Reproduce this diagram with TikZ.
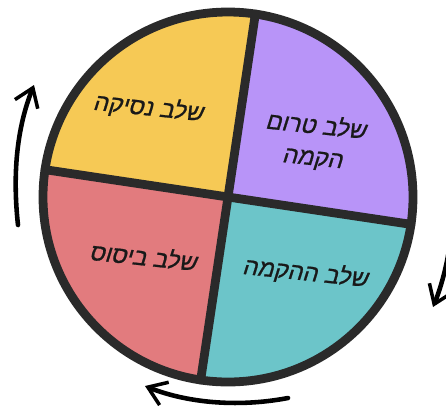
\documentclass[tikz,border=0pt]{standalone}
\usepackage{fontspec}
\newfontfamily\hebfont[Script=Hebrew,FakeSlant=0.2,FakeBold=0.8]{Liberation Sans}
\TeXXeTstate=1
\usetikzlibrary{arrows.meta,calc}
\definecolor{cPurple}{HTML}{B894F8}
\definecolor{cTeal}{HTML}{6CC5C9}
\definecolor{cRose}{HTML}{E27B7E}
\definecolor{cSun}{HTML}{F6C955}
\definecolor{cInk}{HTML}{2A2A2A}
\tikzset{
  wedge/.style={draw=cInk,line width=5pt,line join=round},
  divline/.style={draw=cInk,line width=5pt,line cap=round},
  stagelbl/.style={font=\hebfont\fontsize{13.5}{18}\selectfont,
                   align=center,text=black!90,rotate=-6},
  cyclearr/.style={-{Straight Barb[length=10pt,width=14pt,line width=2pt]},
                   line width=2.6pt,black,line cap=round}
}
\begin{document}
\begin{tikzpicture}[x=0.02cm,y=0.02cm]
  \useasboundingbox (0,0) rectangle (446,-407);
  \coordinate (c) at (228,-197);

  % the four stages
  \fill[cPurple] (c) -- ++(-8.5:185) arc (-8.5:81.5:185) -- cycle;
  \fill[cSun]    (c) -- ++(81.5:185) arc (81.5:171.5:185) -- cycle;
  \fill[cRose]   (c) -- ++(171.5:185) arc (171.5:261.5:185) -- cycle;
  \fill[cTeal]   (c) -- ++(261.5:185) arc (261.5:351.5:185) -- cycle;

  \coordinate (ntop)   at ($(c)+(81.5:185)$);
  \coordinate (nbot)   at ($(c)+(261.5:185)$);
  \coordinate (nleft)  at ($(c)+(171.5:185)$);
  \coordinate (nright) at ($(c)+(351.5:185)$);
  \draw[divline] (ntop) -- (nbot);
  \draw[divline] (nleft) -- (nright);
  \draw[wedge] (c) circle (185);

  \node[stagelbl] (pre)   at (314,-142) {\beginR שלב טרום\endR\\\beginR הקמה\endR};
  \node[stagelbl] (build) at (305,-273) {\beginR שלב ההקמה\endR};
  \node[stagelbl] (base)  at (143,-256) {\beginR שלב ביסוס\endR};
  \node[stagelbl] (soar)  at (148,-108) {\beginR שלב נסיקה\endR};

  % arrows round the cycle
  \coordinate (la) at (18,-225);
  \coordinate (lb) at (34,-85);
  \draw[cyclearr] (la) .. controls (12,-170) and (18,-125) .. (lb);
  \coordinate (ba) at (288,-398);
  \coordinate (bb) at (145,-386);
  \draw[cyclearr] (ba) .. controls (235,-408) and (185,-402) .. (bb);
  \coordinate (ra) at (452,-225);
  \coordinate (rb) at (433,-307);
  \draw[cyclearr] (ra) .. controls (450,-255) and (442,-285) .. (rb);
\end{tikzpicture}
\end{document}
